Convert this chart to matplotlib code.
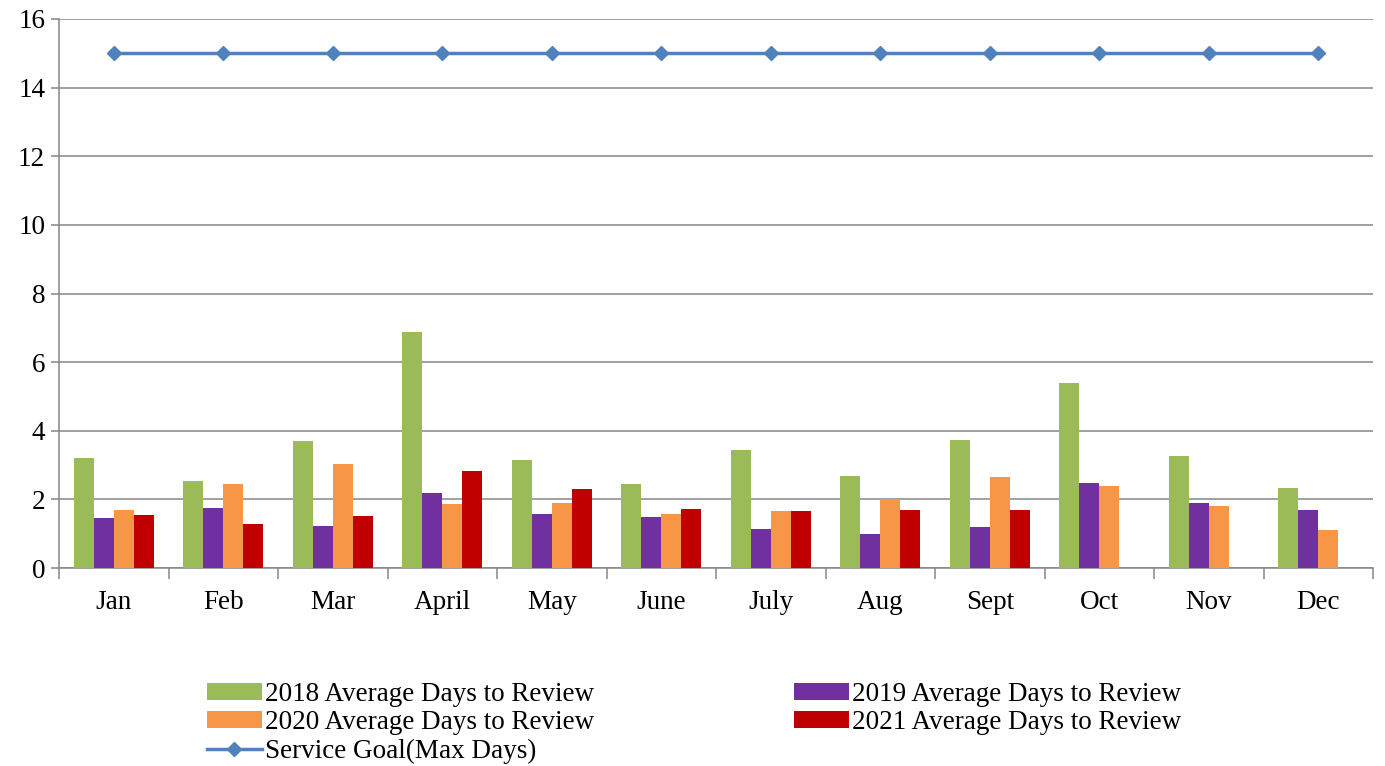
import matplotlib
matplotlib.use("Agg")
import matplotlib.pyplot as plt
import numpy as np
from matplotlib.ticker import FixedLocator

months = ["Jan", "Feb", "Mar", "April", "May", "June", "July", "Aug", "Sept", "Oct", "Nov", "Dec"]
y2018 = [3.22, 2.53, 3.71, 6.89, 3.15, 2.46, 3.43, 2.68, 3.74, 5.40, 3.26, 2.34]
y2019 = [1.46, 1.75, 1.22, 2.20, 1.57, 1.50, 1.15, 0.98, 1.20, 2.48, 1.88, 1.68]
y2020 = [1.69, 2.46, 3.04, 1.87, 1.88, 1.58, 1.66, 2.01, 2.66, 2.39, 1.80, 1.11]
y2021 = [1.55, 1.29, 1.51, 2.83, 2.30, 1.71, 1.66, 1.68, 1.70, np.nan, np.nan, np.nan]
goal = [15] * 12

labels = ["2018 Average Days to Review", "2019 Average Days to Review",
          "2020 Average Days to Review", "2021 Average Days to Review",
          "Service Goal(Max Days)"]
colors = ["#9BBB59", "#7030A0", "#F79646", "#C00000"]

plt.rcParams['font.family'] = ['Liberation Serif', 'DejaVu Serif']

fig = plt.figure(figsize=(13.85, 7.66), dpi=100)
ax = fig.add_axes([59/1385, 1 - 568/766, (1373 - 59)/1385, (568 - 19)/766])

x = np.arange(len(months))
w = 0.183
series = [y2018, y2019, y2020, y2021]
bars = []
for i, (s, c) in enumerate(zip(series, colors)):
    b = ax.bar(x + (i - 1.5) * w, s, width=w, color=c, edgecolor='none', zorder=3)
    bars.append(b)

line, = ax.plot(x, goal, color="#4F81BD", lw=2.5, marker='D', markersize=7,
                markerfacecolor="#4F81BD", markeredgecolor="#4F81BD", zorder=4)

ax.set_xlim(-0.5, len(months) - 0.5)
ax.set_ylim(0, 16)
ax.set_yticks(np.arange(0, 17, 2))
ax.yaxis.grid(True, color="#868686", lw=1.1, zorder=0)
ax.set_axisbelow(True)

ax.set_xticks(x)
ax.set_xticklabels(months, fontsize=19.5)
ax.xaxis.set_minor_locator(FixedLocator(np.arange(-0.5, len(months), 1.0)))
ax.tick_params(axis='x', which='major', length=0, pad=16)
ax.tick_params(axis='x', which='minor', length=8, color="#868686", width=1.1)
ax.tick_params(axis='y', labelsize=19.5, length=6, color="#868686", width=1.1, pad=4)

for sp in ['top', 'right']:
    ax.spines[sp].set_visible(False)
for sp in ['left', 'bottom']:
    ax.spines[sp].set_color("#868686")
    ax.spines[sp].set_linewidth(1.1)

handles = [bars[0], bars[2], line, bars[1], bars[3]]
hl = [labels[0], labels[2], labels[4], labels[1], labels[3]]
fig.legend(handles, hl, ncol=2, loc='upper left', bbox_to_anchor=(207/1385, 1 - 682/766),
           frameon=False, fontsize=19.5, handlelength=2.03, handleheight=0.6,
           handletextpad=0.1, columnspacing=7.4, labelspacing=0.12, borderpad=0,
           borderaxespad=0)

fig.savefig("out.png", dpi=100)
